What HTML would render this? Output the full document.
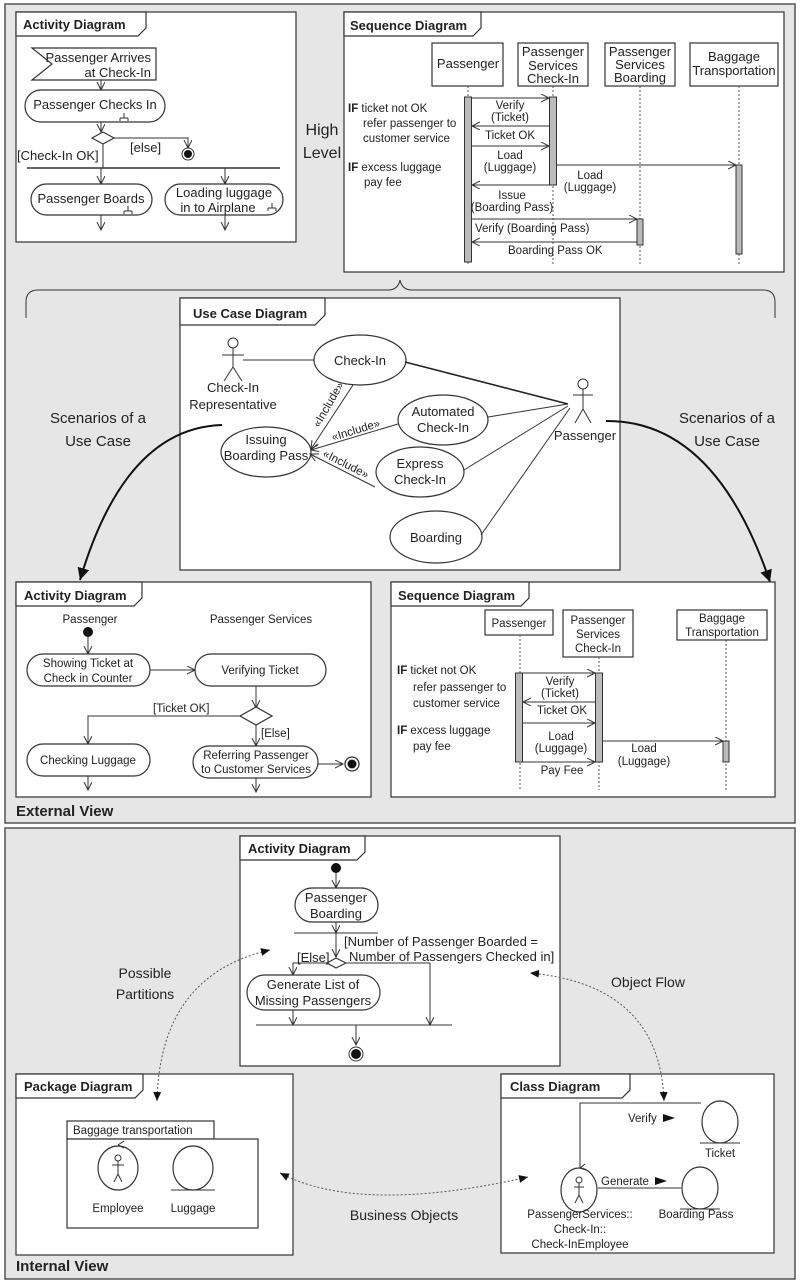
<!DOCTYPE html>
<html><head><meta charset="utf-8"><style>
html,body{margin:0;padding:0;background:#fff}
svg{display:block}
text{font-family:"Liberation Sans",sans-serif;font-size:13px;fill:#222}
.b{font-weight:bold}
.s{font-size:11.5px}
.box{fill:#fff;stroke:#333;stroke-width:1.2}
.ln{stroke:#333;stroke-width:1;fill:none}
.act{fill:#bbb;stroke:#333;stroke-width:1}
.dl{stroke:#555;stroke-width:1;stroke-dasharray:2,2;fill:none}
</style></head><body>
<svg width="800" height="1284" viewBox="0 0 800 1284" xmlns="http://www.w3.org/2000/svg">
<defs>
<marker id="o" markerWidth="10" markerHeight="10" refX="8" refY="4" orient="auto" markerUnits="userSpaceOnUse"><path d="M0,0 L8,4 L0,8" fill="none" stroke="#333" stroke-width="1"/></marker>
<marker id="f" markerWidth="14" markerHeight="14" refX="12" refY="6" orient="auto" markerUnits="userSpaceOnUse"><path d="M0,0 L12,6 L0,12 z" fill="#111"/></marker>
<marker id="fs" markerWidth="10" markerHeight="10" refX="9" refY="4" orient="auto" markerUnits="userSpaceOnUse"><path d="M0,0 L9,4 L0,8 z" fill="#111" stroke="none"/></marker>
<marker id="fs2" markerWidth="10" markerHeight="10" refX="9" refY="4" orient="auto-start-reverse" markerUnits="userSpaceOnUse"><path d="M0,0 L9,4 L0,8 z" fill="#111" stroke="none"/></marker>
</defs>
<!-- panels -->
<rect x="5" y="4" width="790" height="819" fill="#e6e6e6" stroke="#555" stroke-width="1.5"/>
<rect x="5" y="828" width="790" height="451" fill="#e6e6e6" stroke="#555" stroke-width="1.5"/>

<!-- ===== Top Activity ===== -->
<rect class="box" x="16" y="12" width="280" height="230"/>
<path class="box" d="M16,12 H146 V28 L138,36 H16 z"/>
<text class="b" x="23" y="29">Activity Diagram</text>
<path class="box" d="M32,48 H156 V80 H32 L52,64 z"/>
<text x="151" y="62" text-anchor="end">Passenger Arrives</text>
<text x="151" y="77" text-anchor="end">at Check-In</text>
<line class="ln" x1="101" y1="80" x2="101" y2="90" marker-end="url(#o)"/>
<rect class="box" x="25" y="90" width="140" height="32" rx="16"/>
<text x="95" y="109" text-anchor="middle">Passenger Checks In</text>
<path class="ln" d="M124,113 v5 M120,118 h8 M120,118 v3 M128,118 v3"/>
<line class="ln" x1="101" y1="122" x2="101" y2="132" marker-end="url(#o)"/>
<path class="box" d="M92,138 L103,132 L114,138 L103,144 z"/>
<path class="ln" d="M114,138 H188 V148" marker-end="url(#o)"/>
<circle cx="188" cy="154" r="6" fill="#fff" stroke="#333"/><circle cx="188" cy="154" r="4" fill="#111"/>
<text x="130" y="152">[else]</text>
<text x="17" y="160">[Check-In OK]</text>
<line class="ln" x1="103" y1="144" x2="103" y2="168"/>
<line x1="27" y1="168" x2="280" y2="168" stroke="#333" stroke-width="1.5"/>
<line class="ln" x1="101" y1="168" x2="101" y2="184" marker-end="url(#o)"/>
<line class="ln" x1="225" y1="168" x2="225" y2="184" marker-end="url(#o)"/>
<rect class="box" x="31" y="184" width="121" height="31" rx="15.5"/>
<text x="91" y="203" text-anchor="middle">Passenger Boards</text>
<path class="ln" d="M128,206 v5 M124,211 h8 M124,211 v3 M132,211 v3"/>
<rect class="box" x="165" y="184" width="118" height="31" rx="15.5"/>
<text x="224" y="197" text-anchor="middle">Loading luggage</text>
<text x="218" y="212" text-anchor="middle">in to Airplane</text>
<path class="ln" d="M272,203 v5 M268,208 h8 M268,208 v3 M276,208 v3"/>
<line class="ln" x1="101" y1="215" x2="101" y2="230" marker-end="url(#o)"/>
<line class="ln" x1="225" y1="215" x2="225" y2="230" marker-end="url(#o)"/>

<text x="322" y="135" text-anchor="middle" style="font-size:16px">High</text>
<text x="322" y="158" text-anchor="middle" style="font-size:16px">Level</text>

<!-- ===== Top Sequence ===== -->
<rect class="box" x="344" y="12" width="440" height="260"/>
<path class="box" d="M344,12 H481 V28 L473,36 H344 z"/>
<text class="b" x="350" y="30">Sequence Diagram</text>
<rect class="box" x="432" y="43" width="71" height="43"/>
<text x="468" y="68" text-anchor="middle">Passenger</text>
<rect class="box" x="518" y="43" width="70" height="43"/>
<text x="553" y="56" text-anchor="middle">Passenger</text>
<text x="553" y="70" text-anchor="middle">Services</text>
<text x="553" y="83" text-anchor="middle">Check-In</text>
<rect class="box" x="605" y="43" width="70" height="43"/>
<text x="640" y="56" text-anchor="middle">Passenger</text>
<text x="640" y="69" text-anchor="middle">Services</text>
<text x="640" y="82" text-anchor="middle">Boarding</text>
<rect class="box" x="690" y="43" width="88" height="43"/>
<text x="734" y="61" text-anchor="middle">Baggage</text>
<text x="734" y="75" text-anchor="middle">Transportation</text>
<line class="dl" x1="468" y1="86" x2="468" y2="266"/>
<line class="dl" x1="553" y1="86" x2="553" y2="266"/>
<line class="dl" x1="640" y1="86" x2="640" y2="266"/>
<line class="dl" x1="739" y1="86" x2="739" y2="266"/>
<rect class="act" x="464.5" y="97" width="7" height="165"/>
<rect class="act" x="549.5" y="97" width="7" height="88"/>
<rect class="act" x="637" y="219" width="6" height="26"/>
<rect class="act" x="736" y="165" width="6" height="89"/>
<line class="ln" x1="472" y1="98" x2="549" y2="98" marker-end="url(#o)"/>
<text class="s" x="510" y="109" text-anchor="middle">Verify</text>
<text class="s" x="510" y="121" text-anchor="middle">(Ticket)</text>
<line class="ln" x1="549" y1="126" x2="472" y2="126" marker-end="url(#o)"/>
<text class="s" x="510" y="139" text-anchor="middle">Ticket OK</text>
<line class="ln" x1="472" y1="146" x2="549" y2="146" marker-end="url(#o)"/>
<text class="s" x="510" y="159" text-anchor="middle">Load</text>
<text class="s" x="510" y="171" text-anchor="middle">(Luggage)</text>
<line class="ln" x1="549" y1="185" x2="472" y2="185" marker-end="url(#o)"/>
<line class="ln" x1="557" y1="165" x2="736" y2="165" marker-end="url(#o)"/>
<text class="s" x="590" y="179" text-anchor="middle">Load</text>
<text class="s" x="590" y="191" text-anchor="middle">(Luggage)</text>
<text class="s" x="512" y="199" text-anchor="middle">Issue</text>
<text class="s" x="512" y="211" text-anchor="middle">(Boarding Pass)</text>
<line class="ln" x1="472" y1="219" x2="637" y2="219" marker-end="url(#o)"/>
<text class="s" x="475" y="232">Verify (Boarding Pass)</text>
<line class="ln" x1="637" y1="242" x2="472" y2="242" marker-end="url(#o)"/>
<text class="s" x="508" y="254">Boarding Pass OK</text>
<text class="s" x="348" y="112"><tspan class="b">IF</tspan> ticket not OK</text>
<text class="s" x="363" y="127">refer passenger to</text>
<text class="s" x="363" y="142">customer service</text>
<text class="s" x="348" y="171"><tspan class="b">IF</tspan> excess luggage</text>
<text class="s" x="364" y="186">pay fee</text>

<!-- brace -->
<path class="ln" stroke-width="1.5" d="M26,318 V302 Q26,290 38,290 H388 Q398,290 400,280 Q402,290 412,290 H763 Q775,290 775,302 V318"/>

<!-- ===== Use Case ===== -->
<rect class="box" x="180" y="298" width="440" height="272"/>
<path class="box" d="M180,298 H325 V315 L315,325 H180 z"/>
<text class="b" x="193" y="318">Use Case Diagram</text>
<circle cx="233" cy="343" r="5" fill="#fff" stroke="#333"/>
<path class="ln" d="M233,348 V367 M222,355 H244 M233,367 L224,381 M233,367 L242,381"/>
<text x="233" y="392" text-anchor="middle">Check-In</text>
<text x="233" y="409" text-anchor="middle">Representative</text>
<line class="ln" x1="243" y1="360" x2="314" y2="360" stroke="#777"/>
<ellipse class="box" cx="360" cy="360" rx="46" ry="25"/>
<text x="360" y="365" text-anchor="middle">Check-In</text>
<ellipse class="box" cx="266" cy="452" rx="45" ry="25"/>
<text x="266" y="444" text-anchor="middle">Issuing</text>
<text x="266" y="460" text-anchor="middle">Boarding Pass</text>
<ellipse class="box" cx="443" cy="420" rx="45" ry="25"/>
<text x="443" y="416" text-anchor="middle">Automated</text>
<text x="443" y="432" text-anchor="middle">Check-In</text>
<ellipse class="box" cx="420" cy="472" rx="44" ry="25"/>
<text x="420" y="468" text-anchor="middle">Express</text>
<text x="420" y="484" text-anchor="middle">Check-In</text>
<ellipse class="box" cx="436" cy="537" rx="46" ry="26" stroke-width="1.6"/>
<text x="436" y="542" text-anchor="middle">Boarding</text>
<circle cx="583" cy="384" r="5" fill="#fff" stroke="#333"/>
<path class="ln" d="M583,389 V409 M573,395 H593 M583,409 L575,423 M583,409 L591,423"/>
<text x="585" y="440" text-anchor="middle">Passenger</text>
<line x1="405" y1="362" x2="568" y2="404" stroke="#222" stroke-width="1.6"/>
<line class="ln" stroke="#888" x1="488" y1="417" x2="568" y2="404"/>
<line class="ln" stroke="#888" x1="464" y1="470" x2="568" y2="406"/>
<line class="ln" stroke="#888" x1="481" y1="535" x2="570" y2="408"/>
<line class="ln" x1="353" y1="385" x2="311" y2="449" marker-end="url(#o)"/>
<line class="ln" x1="398" y1="424" x2="311" y2="450" marker-end="url(#o)"/>
<line class="ln" x1="375" y1="487" x2="310" y2="454" marker-end="url(#o)"/>
<text class="s" x="0" y="0" transform="translate(319,428) rotate(-60)">«Include»</text>
<text class="s" x="0" y="0" transform="translate(333,441) rotate(-17)">«Include»</text>
<text class="s" x="0" y="0" transform="translate(322,456) rotate(27)">«Include»</text>

<!-- big arrows -->
<path d="M222,425 Q125,428 80,580" fill="none" stroke="#111" stroke-width="2" marker-end="url(#f)"/>
<path d="M606,421 Q715,420 770,582" fill="none" stroke="#111" stroke-width="2" marker-end="url(#f)"/>
<text x="98" y="423" text-anchor="middle" style="font-size:15px">Scenarios of a</text>
<text x="98" y="446" text-anchor="middle" style="font-size:15px">Use Case</text>
<text x="727" y="423" text-anchor="middle" style="font-size:15px">Scenarios of a</text>
<text x="727" y="446" text-anchor="middle" style="font-size:15px">Use Case</text>

<!-- ===== Bottom Activity (external) ===== -->
<rect class="box" x="16" y="582" width="355" height="215"/>
<path class="box" d="M16,582 H142 V598 L134,606 H16 z"/>
<text class="b" x="24" y="600">Activity Diagram</text>
<text class="s" x="90" y="623" text-anchor="middle">Passenger</text>
<text class="s" x="261" y="623" text-anchor="middle">Passenger Services</text>
<circle cx="88" cy="632" r="5" fill="#111"/>
<line class="ln" x1="88" y1="637" x2="88" y2="654" marker-end="url(#o)"/>
<rect class="box" x="27" y="654" width="123" height="32" rx="16"/>
<text class="s" x="88" y="667" text-anchor="middle">Showing Ticket at</text>
<text class="s" x="88" y="682" text-anchor="middle">Check in Counter</text>
<line class="ln" x1="150" y1="670" x2="195" y2="670" marker-end="url(#o)"/>
<rect class="box" x="195" y="654" width="131" height="32" rx="16"/>
<text class="s" x="260" y="674" text-anchor="middle">Verifying Ticket</text>
<line class="ln" x1="256" y1="686" x2="256" y2="708" marker-end="url(#o)"/>
<path class="box" d="M240,716 L256,707 L272,716 L256,725 z"/>
<text class="s" x="153" y="712">[Ticket OK]</text>
<path class="ln" d="M240,716 H88 V744" marker-end="url(#o)"/>
<line class="ln" x1="256" y1="725" x2="256" y2="746" marker-end="url(#o)"/>
<text class="s" x="261" y="737">[Else]</text>
<rect class="box" x="27" y="744" width="123" height="32" rx="16"/>
<text class="s" x="88" y="764" text-anchor="middle">Checking Luggage</text>
<rect class="box" x="193" y="746" width="125" height="32" rx="16"/>
<text class="s" x="256" y="759" text-anchor="middle">Referring Passenger</text>
<text class="s" x="256" y="773" text-anchor="middle">to Customer Services</text>
<line class="ln" x1="318" y1="764" x2="343" y2="764" marker-end="url(#o)"/>
<circle cx="352" cy="764" r="7" fill="#fff" stroke="#333" stroke-width="1.3"/><circle cx="352" cy="764" r="4.5" fill="#111"/>
<line class="ln" x1="88" y1="776" x2="88" y2="790" marker-end="url(#o)"/>
<line class="ln" x1="256" y1="778" x2="256" y2="792" marker-end="url(#o)"/>

<!-- ===== Bottom Sequence (external) ===== -->
<rect class="box" x="391" y="582" width="384" height="215"/>
<path class="box" d="M391,582 H529 V598 L521,606 H391 z"/>
<text class="b" x="398" y="600">Sequence Diagram</text>
<rect class="box" x="485" y="610" width="68" height="25"/>
<text class="s" x="519" y="627" text-anchor="middle">Passenger</text>
<rect class="box" x="563" y="610" width="70" height="47"/>
<text class="s" x="598" y="624" text-anchor="middle">Passenger</text>
<text class="s" x="598" y="638" text-anchor="middle">Services</text>
<text class="s" x="598" y="652" text-anchor="middle">Check-In</text>
<rect class="box" x="677" y="610" width="90" height="30"/>
<text class="s" x="722" y="622" text-anchor="middle">Baggage</text>
<text class="s" x="722" y="636" text-anchor="middle">Transportation</text>
<line class="dl" x1="520" y1="635" x2="520" y2="790"/>
<line class="dl" x1="599" y1="657" x2="599" y2="790"/>
<line class="dl" x1="726" y1="640" x2="726" y2="790"/>
<rect class="act" x="515.5" y="673" width="7" height="89"/>
<rect class="act" x="595.5" y="673" width="7" height="89"/>
<rect class="act" x="723" y="741" width="6" height="21"/>
<line class="ln" x1="523" y1="673" x2="595" y2="673" marker-end="url(#o)"/>
<text class="s" x="560" y="685" text-anchor="middle">Verify</text>
<text class="s" x="560" y="697" text-anchor="middle">(Ticket)</text>
<line class="ln" x1="595" y1="702" x2="523" y2="702" marker-end="url(#o)"/>
<text class="s" x="562" y="714" text-anchor="middle">Ticket OK</text>
<line class="ln" x1="523" y1="723" x2="595" y2="723" marker-end="url(#o)"/>
<text class="s" x="561" y="740" text-anchor="middle">Load</text>
<text class="s" x="561" y="752" text-anchor="middle">(Luggage)</text>
<line class="ln" x1="603" y1="741" x2="723" y2="741" marker-end="url(#o)"/>
<text class="s" x="644" y="752" text-anchor="middle">Load</text>
<text class="s" x="644" y="765" text-anchor="middle">(Luggage)</text>
<line class="ln" x1="523" y1="762" x2="595" y2="762" marker-end="url(#o)"/>
<text class="s" x="562" y="774" text-anchor="middle">Pay Fee</text>
<text class="s" x="397" y="674"><tspan class="b">IF</tspan> ticket not OK</text>
<text class="s" x="413" y="691">refer passenger to</text>
<text class="s" x="413" y="707">customer service</text>
<text class="s" x="397" y="734"><tspan class="b">IF</tspan> excess luggage</text>
<text class="s" x="413" y="750">pay fee</text>

<text class="b" x="16" y="816" style="font-size:15px">External View</text>

<!-- ===== Internal Activity ===== -->
<rect class="box" x="240" y="836" width="320" height="230"/>
<path class="box" d="M240,836 H365 V852 L357,860 H240 z"/>
<text class="b" x="248" y="853">Activity Diagram</text>
<circle cx="336" cy="868" r="5" fill="#111"/>
<line class="ln" x1="336" y1="873" x2="336" y2="888" marker-end="url(#o)"/>
<rect class="box" x="295" y="888" width="83" height="34" rx="17"/>
<text x="336" y="902" text-anchor="middle">Passenger</text>
<text x="336" y="918" text-anchor="middle">Boarding</text>
<line class="ln" x1="336" y1="922" x2="336" y2="933" marker-end="url(#o)"/>
<line class="ln" x1="294" y1="933" x2="378" y2="933"/>
<line class="ln" x1="336" y1="933" x2="336" y2="957" marker-end="url(#o)"/>
<path class="box" d="M327,963 L336,958 L346,963 L336,968 z"/>
<text x="297" y="962">[Else]</text>
<text x="344" y="946">[Number of Passenger Boarded =</text>
<text x="349" y="961">Number of Passengers Checked in]</text>
<path class="ln" d="M327,963 H293 V975" marker-end="url(#o)"/>
<path class="ln" d="M346,963 H430 V1025" marker-end="url(#o)"/>
<rect class="box" x="247" y="975" width="133" height="35" rx="17.5"/>
<text x="313" y="989" text-anchor="middle">Generate List of</text>
<text x="313" y="1005" text-anchor="middle">Missing Passengers</text>
<line class="ln" x1="293" y1="1010" x2="293" y2="1025" marker-end="url(#o)"/>
<line class="ln" x1="256" y1="1025" x2="452" y2="1025"/>
<line class="ln" x1="356" y1="1025" x2="356" y2="1045" marker-end="url(#o)"/>
<circle cx="356" cy="1054" r="7" fill="#fff" stroke="#333"/><circle cx="356" cy="1054" r="5" fill="#111"/>

<text x="145" y="978" text-anchor="middle" style="font-size:14px">Possible</text>
<text x="145" y="999" text-anchor="middle" style="font-size:14px">Partitions</text>
<text x="648" y="987" text-anchor="middle" style="font-size:14px">Object Flow</text>
<text x="404" y="1220" text-anchor="middle" style="font-size:14px">Business Objects</text>

<!-- ===== Package ===== -->
<rect class="box" x="16" y="1074" width="277" height="181"/>
<path class="box" d="M16,1074 H143 V1090 L135,1098 H16 z"/>
<text class="b" x="24" y="1091">Package Diagram</text>
<rect class="box" x="67" y="1121" width="147" height="18"/>
<text class="s" x="73" y="1134">Baggage transportation</text>
<rect class="box" x="67" y="1139" width="191" height="89"/>
<ellipse class="box" cx="118" cy="1168" rx="20" ry="22"/>
<path class="ln" d="M118,1145 l6,-4 M118,1145 l6,3"/>
<circle cx="118" cy="1158" r="3" fill="#fff" stroke="#333"/>
<path class="ln" d="M118,1161 V1174 M112,1165 H124 M118,1174 L114,1182 M118,1174 L122,1182"/>
<ellipse class="box" cx="193" cy="1168" rx="20" ry="22"/>
<line class="ln" x1="171" y1="1190" x2="215" y2="1190"/>
<text class="s" x="118" y="1212" text-anchor="middle">Employee</text>
<text class="s" x="193" y="1212" text-anchor="middle">Luggage</text>

<!-- ===== Class ===== -->
<rect class="box" x="501" y="1074" width="273" height="179"/>
<path class="box" d="M501,1074 H630 V1090 L622,1098 H501 z"/>
<text class="b" x="510" y="1091">Class Diagram</text>
<path class="ln" stroke="#888" stroke-width="1.5" d="M580,1168 V1103 H701"/>
<line class="ln" stroke="#888" stroke-width="1.5" x1="598" y1="1188" x2="681" y2="1188"/>
<ellipse class="box" cx="720" cy="1122" rx="18" ry="21"/>
<line class="ln" x1="700" y1="1143" x2="740" y2="1143"/>
<ellipse class="box" cx="700" cy="1188" rx="18" ry="21"/>
<line class="ln" x1="680" y1="1209" x2="720" y2="1209"/>
<ellipse class="box" cx="579" cy="1190" rx="18" ry="22"/>
<path class="ln" d="M580,1168 l5,-4 M580,1168 l6,2"/>
<circle cx="579" cy="1180" r="3" fill="#fff" stroke="#333"/>
<path class="ln" d="M579,1183 V1195 M574,1187 H584 M579,1195 L575,1203 M579,1195 L583,1203"/>
<text class="s" x="628" y="1122">Verify</text>
<path d="M663,1114 l12,4 l-12,4 z" fill="#111"/>
<text class="s" x="601" y="1185">Generate</text>
<path d="M655,1177 l12,4 l-12,4 z" fill="#111"/>
<text class="s" x="720" y="1157" text-anchor="middle">Ticket</text>
<text class="s" x="696" y="1218" text-anchor="middle">Boarding Pass</text>
<text class="s" x="580" y="1218" text-anchor="middle">PassengerServices::</text>
<text class="s" x="580" y="1233" text-anchor="middle">Check-In::</text>
<text class="s" x="580" y="1248" text-anchor="middle">Check-InEmployee</text>

<!-- dashed links (drawn on top) -->
<path class="dl" d="M157,1101 Q160,975 270,950" marker-start="url(#fs2)" marker-end="url(#fs)"/>
<path class="dl" d="M664,1101 Q660,985 530,973" marker-start="url(#fs2)" marker-end="url(#fs)"/>
<path class="dl" d="M280,1173 Q360,1215 528,1177" marker-start="url(#fs2)" marker-end="url(#fs)"/>

<text class="b" x="16" y="1271" style="font-size:15px">Internal View</text>
</svg>
</body></html>
